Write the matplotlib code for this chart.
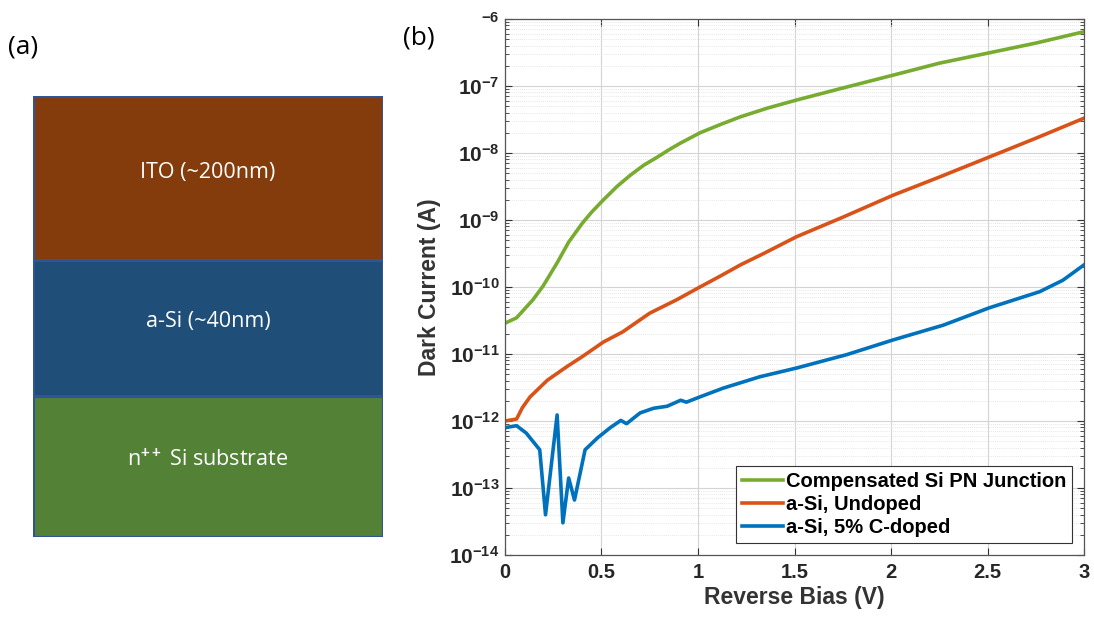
import numpy as np
import matplotlib
matplotlib.use("Agg")
import matplotlib.pyplot as plt
from matplotlib.ticker import LogLocator, NullFormatter, FixedLocator

plt.rcParams["mathtext.fontset"] = "custom"
plt.rcParams["mathtext.rm"] = "Liberation Sans:bold"
plt.rcParams["mathtext.bf"] = "Liberation Sans:bold"
plt.rcParams["mathtext.it"] = "Liberation Sans:bold"

# ---- layer stack (panel a) ----
layer_names = ["n$^{++}$ Si substrate", "a-Si (~40nm)", "ITO (~200nm)"]
layer_heights = [141, 136, 164]
layer_colors = ["#538135", "#1F4E79", "#843C0C"]

# ---- dark current vs reverse bias (panel b) ----
v_pn = [0, 0.06, 0.145, 0.197, 0.27, 0.33, 0.40, 0.45, 0.51, 0.58, 0.65, 0.72,
        0.79, 0.85, 0.91, 1.01, 1.12, 1.22, 1.36, 1.51, 1.75, 2.01, 2.25, 2.50,
        2.75, 3.0]
i_pn = [2.88e-11, 3.47e-11, 6.46e-11, 1.03e-10, 2.29e-10, 4.68e-10, 8.91e-10,
        1.32e-9, 2.0e-9, 3.16e-9, 4.68e-9, 6.61e-9, 8.71e-9, 1.12e-8, 1.41e-8,
        2.0e-8, 2.69e-8, 3.47e-8, 4.68e-8, 6.17e-8, 9.33e-8, 1.45e-7, 2.19e-7,
        3.09e-7, 4.37e-7, 6.46e-7]

v_undoped = [0, 0.06, 0.09, 0.13, 0.22, 0.32, 0.40, 0.51, 0.61, 0.75, 0.89, 1.01,
             1.12, 1.22, 1.34, 1.51, 1.75, 2.01, 2.25, 2.50, 2.75, 3.0]
i_undoped = [1.0e-12, 1.07e-12, 1.58e-12, 2.29e-12, 4.07e-12, 6.46e-12, 9.12e-12,
             1.51e-11, 2.14e-11, 4.07e-11, 6.46e-11, 1.0e-10, 1.48e-10, 2.14e-10,
             3.16e-10, 5.62e-10, 1.10e-9, 2.34e-9, 4.37e-9, 8.51e-9, 1.66e-8,
             3.31e-8]

v_cdoped = [0, 0.06, 0.11, 0.18, 0.21, 0.27, 0.30, 0.33, 0.36, 0.415, 0.48, 0.545,
            0.60, 0.63, 0.70, 0.77, 0.84, 0.91, 0.94, 1.01, 1.13, 1.32, 1.51, 1.77,
            2.01, 2.27, 2.51, 2.77, 2.89, 3.0]
i_cdoped = [7.94e-13, 8.51e-13, 6.61e-13, 3.72e-13, 3.98e-14, 1.23e-12, 3.02e-14,
            1.41e-13, 6.61e-14, 3.72e-13, 5.62e-13, 7.94e-13, 1.02e-12, 9.12e-13,
            1.32e-12, 1.55e-12, 1.66e-12, 2.04e-12, 1.91e-12, 2.29e-12, 3.09e-12,
            4.57e-12, 6.17e-12, 9.77e-12, 1.62e-11, 2.69e-11, 4.90e-11, 8.51e-11,
            1.26e-10, 2.14e-10]

series = [
    (v_pn, i_pn, "#77AC30", "Compensated Si PN Junction"),
    (v_undoped, i_undoped, "#D95319", "a-Si, Undoped"),
    (v_cdoped, i_cdoped, "#0072BD", "a-Si, 5% C-doped"),
]

y_decades = list(range(-14, -5))
x_ticks = [0, 0.5, 1, 1.5, 2, 2.5, 3]

fig = plt.figure(figsize=(10.94, 6.17), dpi=100)

# panel (a): stacked layers
ax_a = fig.add_axes([0.0302, 0.1297, 0.3199, 0.7147])
bottom = 0
for name, h, c in zip(layer_names, layer_heights, layer_colors):
    ax_a.bar(0.5, h, width=1.0, bottom=bottom, color=c, edgecolor="#2F5597",
             linewidth=2.2)
    ax_a.text(0.5, bottom + h / 2 + 6, name, ha="center", va="center",
              color="white", fontsize=15.5, family="Open Sans")
    bottom += h
ax_a.set_xlim(0, 1)
ax_a.set_ylim(0, bottom)
ax_a.axis("off")

fig.text(0.007, 0.924, "(a)", fontsize=19, family="Open Sans", va="center")
fig.text(0.368, 0.938, "(b)", fontsize=19, family="Open Sans", va="center")

# panel (b): dark current
ax = fig.add_axes([0.4616, 0.1005, 0.5293, 0.8687])
for v, i, c, lab in series:
    ax.semilogy(v, i, color=c, linewidth=2.6, label=lab)

ax.set_xlim(0, 3)
ax.set_ylim(1e-14, 1e-6)
ax.xaxis.set_major_locator(FixedLocator(x_ticks))
ax.set_xticklabels([f"{t:g}" for t in x_ticks], fontsize=14.5,
                   fontweight="bold", family="Liberation Sans")
ax.yaxis.set_major_locator(FixedLocator([10.0 ** d for d in y_decades]))
ylabels = [rf"$10^{{{d}}}$" for d in y_decades]
ylabels[-1] = r"$^{-6}$"
ax.set_yticklabels(ylabels, fontsize=15)
ax.yaxis.set_minor_locator(LogLocator(base=10, subs=np.arange(2, 10), numticks=20))
ax.yaxis.set_minor_formatter(NullFormatter())

ax.tick_params(which="both", direction="in", top=True, right=True,
               colors="#333333", labelcolor="#262626")
ax.tick_params(which="major", length=5, width=0.8)
ax.tick_params(which="minor", length=3, width=0.6)
ax.tick_params(axis="y", pad=4)
ax.tick_params(axis="x", pad=6)

ax.grid(True, which="major", color="#d4d4d4", linewidth=0.8)
ax.grid(True, which="minor", axis="y", color="#dedede", linewidth=0.6,
        linestyle=(0, (1, 1.5)))
ax.set_axisbelow(True)
for s in ax.spines.values():
    s.set_color("#555555")
    s.set_linewidth(0.9)

ax.set_xlabel("Reverse Bias (V)", fontsize=16.5, fontweight="bold",
              family="Liberation Sans", color="#333333", labelpad=3)
ax.set_ylabel("Dark Current (A)", fontsize=16.5, fontweight="bold",
              family="Liberation Sans", color="#333333", labelpad=6)

leg = ax.legend(loc="lower right", prop={"family": "Liberation Sans",
                "weight": "bold", "size": 14.5}, frameon=True, fancybox=False,
                edgecolor="#333333", framealpha=1, handlelength=2.0,
                handletextpad=0.15, borderpad=0.3, labelspacing=0.2,
                borderaxespad=0.6)
leg.get_frame().set_linewidth(0.8)

fig.savefig("out.png", dpi=100)
